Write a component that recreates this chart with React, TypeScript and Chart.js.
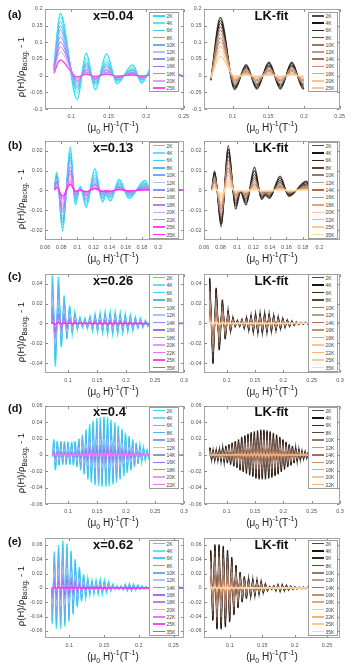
import React, { useEffect, useRef } from 'react';
import { Chart, registerables } from 'chart.js';

Chart.register(...registerables);

type P = [number, number];

// ---------------- temperatures (legend entries) ----------------
const tempsA = ['2K', '4K', '6K', '8K', '10K', '12K', '14K', '16K', '18K', '20K', '25K'];
const tempsB = ['2K', '4K', '6K', '8K', '10K', '12K', '14K', '16K', '18K', '20K', '22K', '25K', '35K'];
const tempsD = ['2K', '4K', '6K', '8K', '10K', '12K', '14K', '16K', '18K', '20K', '22K'];

// ---------------- tick values ----------------
const aXTicks = [0.1, 0.15, 0.2, 0.25];
const aYTicks = [-0.1, -0.05, 0, 0.05, 0.1, 0.15, 0.2];
const bXTicks = [0.06, 0.08, 0.1, 0.12, 0.14, 0.16, 0.18, 0.2];
const bYTicks = [-0.02, -0.01, 0, 0.01, 0.02];
const cXTicks = [0.1, 0.15, 0.2, 0.25, 0.3];
const cYTicks = [-0.04, -0.02, 0, 0.02, 0.04];
const dXTicks = [0.1, 0.15, 0.2, 0.25, 0.3];
const dYTicks = [-0.06, -0.04, -0.02, 0, 0.02, 0.04, 0.06];
const eXTicks = [0.1, 0.15, 0.2, 0.25];
const eYTicks = [-0.06, -0.04, -0.02, 0, 0.02, 0.04, 0.06];

// ---------------- (a) x=0.04 ----------------
const aMeasBase: P[] = [[0.077, 0.03], [0.0853, 0.186], [0.108, -0.071], [0.12, 0.067], [0.132, -0.042], [0.147, 0.065], [0.161, -0.024], [0.182, 0.032], [0.194, -0.022], [0.21, 0.035], [0.224, -0.012], [0.238, 0.01], [0.25, -0.004]];
const aMeasEarly = [1, 0.94, 0.87, 0.8, 0.74, 0.68, 0.62, 0.54, 0.46, 0.38, 0.25];
const aMeasLate = [1, 0.75, 0.62, 0.52, 0.44, 0.37, 0.3, 0.23, 0.16, 0.11, 0.06];
const aFitBase: P[] = [[0.0696, -0.014], [0.083, 0.174], [0.103, -0.042], [0.119, 0.033], [0.134, -0.04], [0.151, 0.04], [0.167, -0.04], [0.183, 0.04], [0.199, -0.04], [0.2, -0.038]];
const aFitEarly = [1, 0.95, 0.9, 0.84, 0.78, 0.72, 0.65, 0.58, 0.5, 0.42, 0.33];
const aFitLate = [1, 0.9, 0.8, 0.7, 0.6, 0.5, 0.4, 0.3, 0.2, 0.12, 0.06];

// ---------------- (b) x=0.13 ----------------
const bMeasBase: P[] = [[0.0717, 0.001], [0.0746, 0.0092], [0.0817, -0.0205], [0.0913, 0.022], [0.0975, -0.0073], [0.1037, 0.002], [0.111, -0.0085], [0.1217, 0.011], [0.131, -0.0058], [0.1355, -0.0025], [0.141, -0.0052], [0.1517, 0.0055], [0.164, -0.004], [0.1837, 0.005], [0.192, -0.0015], [0.2, 0.002], [0.21, -0.002], [0.22, 0.001], [0.232, 0]];
const bMeasEarly = [1, 0.92, 0.85, 0.78, 0.7, 0.62, 0.54, 0.46, 0.38, 0.31, 0.25, 0.2, 0.14];
const bMeasLate = [1, 0.85, 0.72, 0.6, 0.5, 0.42, 0.35, 0.28, 0.22, 0.17, 0.13, 0.1, 0.07];
const bFitBase: P[] = [[0.0694, 0], [0.0728, 0.0098], [0.0809, -0.0183], [0.0894, 0.0225], [0.0983, -0.0094], [0.1043, -0.0008], [0.111, -0.0073], [0.1213, 0.0117], [0.1298, -0.0045], [0.1345, -0.0025], [0.1395, -0.004], [0.1523, 0.0071], [0.163, -0.003], [0.184, 0.0046], [0.193, -0.001], [0.2, 0.0005]];
const bFitEarly = [1, 0.93, 0.85, 0.77, 0.68, 0.6, 0.51, 0.43, 0.35, 0.27, 0.2, 0.14, 0.09];
const bFitLate = [1, 0.85, 0.7, 0.57, 0.46, 0.37, 0.29, 0.22, 0.16, 0.12, 0.08, 0.05, 0.03];

// ---------------- (c) x=0.26 ----------------
const cMeasEnds: P[] = [[0.072, 0], [0.3, 0]];
const cMeasPeaks: P[] = [[0.0728, 0.05], [0.0833, 0.047], [0.0931, 0.028], [0.1025, 0.018], [0.1115, 0.011], [0.1203, 0.006], [0.129, 0.005], [0.1377, 0.007], [0.1464, 0.009], [0.1551, 0.01], [0.1638, 0.011], [0.1725, 0.011], [0.1812, 0.011], [0.1899, 0.01], [0.1986, 0.009], [0.2073, 0.008], [0.216, 0.006], [0.2247, 0.005], [0.2334, 0.003], [0.2421, 0.002], [0.2508, 0.002], [0.2595, 0.001], [0.2682, 0.001]];
const cMeasTroughs: P[] = [[0.078, -0.0435], [0.0882, -0.024], [0.0978, -0.016], [0.107, -0.01], [0.1159, -0.006], [0.1246, -0.004], [0.1333, -0.005], [0.142, -0.007], [0.1507, -0.008], [0.1594, -0.009], [0.1681, -0.01], [0.1768, -0.01], [0.1855, -0.01], [0.1942, -0.009], [0.2029, -0.008], [0.2116, -0.007], [0.2203, -0.005], [0.229, -0.004], [0.2377, -0.003], [0.2464, -0.002], [0.2551, -0.0015], [0.2638, -0.001], [0.2725, -0.001]];
const cMeasAmp = [1, 0.97, 0.93, 0.85, 0.68, 0.5, 0.33, 0.2, 0.12, 0.07, 0.045, 0.03, 0.015];
const cFitEnds: P[] = [[0.0695, 0], [0.3, 0]];
const cFitPeaks: P[] = [[0.07, 0.046], [0.0815, 0.036], [0.0925, 0.024], [0.1025, 0.013], [0.111, 0.006], [0.119, 0.003], [0.127, 0.004], [0.135, 0.006], [0.143, 0.008], [0.151, 0.0095], [0.159, 0.01], [0.167, 0.01], [0.175, 0.0095], [0.183, 0.008], [0.191, 0.0065], [0.199, 0.005], [0.207, 0.0035], [0.215, 0.0025], [0.223, 0.0015], [0.231, 0.001], [0.239, 0.001], [0.247, 0.0005]];
const cFitTroughs: P[] = [[0.0758, -0.041], [0.087, -0.027], [0.0975, -0.016], [0.1068, -0.008], [0.115, -0.003], [0.123, -0.003], [0.131, -0.005], [0.139, -0.007], [0.147, -0.0085], [0.155, -0.0095], [0.163, -0.0095], [0.171, -0.009], [0.179, -0.008], [0.187, -0.007], [0.195, -0.0055], [0.203, -0.004], [0.211, -0.003], [0.219, -0.002], [0.227, -0.0012], [0.235, -0.0008], [0.243, -0.0005]];
const cFitAmp = [1, 0.97, 0.92, 0.85, 0.7, 0.5, 0.3, 0.18, 0.1, 0.06, 0.04, 0.025, 0.01];

// ---------------- (d) x=0.4 ----------------
const dMeasEnds: P[] = [[0.0735, -0.002], [0.252, 0], [0.3, 0]];
const dMeasPeaks: P[] = [[0.075, 0.019], [0.0812, 0.017], [0.0874, 0.017], [0.0936, 0.017], [0.0998, 0.016], [0.106, 0.016], [0.1122, 0.017], [0.1184, 0.02], [0.1246, 0.025], [0.1308, 0.031], [0.137, 0.038], [0.1432, 0.042], [0.1494, 0.045], [0.1556, 0.046], [0.1618, 0.047], [0.168, 0.046], [0.1742, 0.043], [0.1804, 0.04], [0.1866, 0.036], [0.1928, 0.032], [0.199, 0.027], [0.2052, 0.023], [0.2114, 0.019], [0.2176, 0.015], [0.2238, 0.012], [0.23, 0.009], [0.2362, 0.006], [0.2424, 0.004], [0.2486, 0.002]];
const dMeasTroughs: P[] = [[0.0781, -0.019], [0.0843, -0.013], [0.0905, -0.012], [0.0967, -0.012], [0.1029, -0.012], [0.1091, -0.013], [0.1153, -0.015], [0.1215, -0.019], [0.1277, -0.024], [0.1339, -0.03], [0.1401, -0.034], [0.1463, -0.037], [0.1525, -0.038], [0.1587, -0.039], [0.1649, -0.039], [0.1711, -0.038], [0.1773, -0.036], [0.1835, -0.034], [0.1897, -0.03], [0.1959, -0.026], [0.2021, -0.022], [0.2083, -0.019], [0.2145, -0.015], [0.2207, -0.011], [0.2269, -0.008], [0.2331, -0.006], [0.2393, -0.004], [0.2455, -0.002]];
const dMeasAmp = [1, 0.97, 0.92, 0.82, 0.62, 0.42, 0.26, 0.15, 0.08, 0.04, 0.02];
const dFitEnds: P[] = [[0.0695, 0], [0.25, 0]];
const dFitPeaks: P[] = [[0.0705, 0.009], [0.0761, 0.006], [0.0817, 0.006], [0.0873, 0.007], [0.0929, 0.009], [0.0985, 0.011], [0.1041, 0.013], [0.1097, 0.015], [0.1153, 0.017], [0.1209, 0.019], [0.1265, 0.022], [0.1321, 0.024], [0.1377, 0.026], [0.1433, 0.028], [0.1489, 0.029], [0.1545, 0.03], [0.1601, 0.031], [0.1657, 0.031], [0.1713, 0.03], [0.1769, 0.029], [0.1825, 0.027], [0.1881, 0.025], [0.1937, 0.022], [0.1993, 0.019], [0.2049, 0.016], [0.2105, 0.013], [0.2161, 0.011], [0.2217, 0.009], [0.2273, 0.007], [0.2329, 0.005], [0.2385, 0.004], [0.2441, 0.003]];
const dFitTroughs: P[] = [[0.0733, -0.006], [0.0789, -0.007], [0.0845, -0.007], [0.0901, -0.008], [0.0957, -0.009], [0.1013, -0.01], [0.1069, -0.012], [0.1125, -0.014], [0.1181, -0.016], [0.1237, -0.019], [0.1293, -0.021], [0.1349, -0.023], [0.1405, -0.025], [0.1461, -0.027], [0.1517, -0.029], [0.1573, -0.03], [0.1629, -0.03], [0.1685, -0.03], [0.1741, -0.029], [0.1797, -0.028], [0.1853, -0.026], [0.1909, -0.024], [0.1965, -0.021], [0.2021, -0.018], [0.2077, -0.015], [0.2133, -0.013], [0.2189, -0.01], [0.2245, -0.008], [0.2301, -0.006], [0.2357, -0.005], [0.2413, -0.004], [0.2469, -0.003]];
const dFitAmp = [1, 0.95, 0.88, 0.78, 0.6, 0.4, 0.25, 0.14, 0.08, 0.04, 0.02];

// ---------------- (e) x=0.62 ----------------
const eMeasEnds: P[] = [[0.075, 0], [0.265, 0]];
const eMeasPeaks: P[] = [[0.0785, 0.051], [0.0845, 0.06], [0.0905, 0.066], [0.0965, 0.062], [0.1025, 0.052], [0.1085, 0.04], [0.1145, 0.029], [0.1205, 0.019], [0.1265, 0.013], [0.1325, 0.01], [0.1385, 0.01], [0.1445, 0.011], [0.1505, 0.01], [0.1565, 0.008], [0.1625, 0.005], [0.1685, 0.003], [0.1745, 0.003], [0.1805, 0.005], [0.1865, 0.0055], [0.1925, 0.005], [0.1985, 0.004], [0.2045, 0.003], [0.2105, 0.002], [0.2165, 0.0015], [0.2225, 0.0015], [0.2285, 0.001], [0.2345, 0.001], [0.2405, 0.001], [0.2465, 0.001], [0.2525, 0.001], [0.2585, 0.001]];
const eMeasTroughs: P[] = [[0.0755, -0.05], [0.0815, -0.057], [0.0875, -0.057], [0.0935, -0.054], [0.0995, -0.047], [0.1055, -0.037], [0.1115, -0.027], [0.1175, -0.019], [0.1235, -0.013], [0.1295, -0.009], [0.1355, -0.008], [0.1415, -0.008], [0.1475, -0.008], [0.1535, -0.006], [0.1595, -0.004], [0.1655, -0.002], [0.1715, -0.002], [0.1775, -0.003], [0.1835, -0.004], [0.1895, -0.004], [0.1955, -0.003], [0.2015, -0.002], [0.2075, -0.0015], [0.2135, -0.001], [0.2195, -0.001], [0.2255, -0.001], [0.2315, -0.001], [0.2375, -0.001], [0.2435, -0.001], [0.2495, -0.001], [0.2555, -0.001]];
const eMeasAmp = [1, 0.97, 0.93, 0.85, 0.65, 0.45, 0.28, 0.17, 0.1, 0.06, 0.04, 0.025, 0.012];
const eFitEnds: P[] = [[0.0695, 0], [0.235, 0], [0.27, 0]];
const eFitPeaks: P[] = [[0.0703, 0.053], [0.0768, 0.061], [0.0833, 0.061], [0.0898, 0.059], [0.0963, 0.053], [0.1028, 0.043], [0.1093, 0.032], [0.1158, 0.022], [0.1223, 0.016], [0.1288, 0.013], [0.1353, 0.012], [0.1418, 0.011], [0.1483, 0.009], [0.1548, 0.0055], [0.1613, 0.002], [0.1678, 0.003], [0.1743, 0.0045], [0.1808, 0.0045], [0.1873, 0.0035], [0.1938, 0.0025], [0.2003, 0.0015], [0.2068, 0.001], [0.2133, 0.001], [0.2198, 0.0008], [0.2263, 0.0005]];
const eFitTroughs: P[] = [[0.07355, -0.046], [0.08005, -0.058], [0.08655, -0.058], [0.09305, -0.055], [0.09955, -0.048], [0.10605, -0.038], [0.11255, -0.028], [0.11905, -0.02], [0.12555, -0.015], [0.13205, -0.012], [0.13855, -0.011], [0.14505, -0.009], [0.15155, -0.007], [0.15805, -0.004], [0.16455, -0.002], [0.17105, -0.004], [0.17755, -0.005], [0.18405, -0.004], [0.19055, -0.003], [0.19705, -0.002], [0.20355, -0.0015], [0.21005, -0.001], [0.21655, -0.001], [0.22305, -0.0008], [0.22955, -0.0005]];
const eFitAmp = [1, 0.97, 0.92, 0.85, 0.7, 0.5, 0.3, 0.18, 0.1, 0.06, 0.04, 0.025, 0.01];

// ---------------- styles ----------------
const measPalette: Record<string, string> = {
  '2K': '#22e4f0', '4K': '#66dff3', '6K': '#3fcdf0', '8K': '#55b5f0', '10K': '#74a9f2', '12K': '#a9c2f7',
  '14K': '#8e8ff2', '16K': '#9c72f2', '18K': '#b57ff2', '20K': '#d7a2f4', '22K': '#e678f2', '25K': '#f04cf0', '35K': '#ff2cff',
};
const fitPalette: Record<string, string> = {
  '2K': '#4a4a4a', '4K': '#1e120c', '6K': '#3a2216', '8K': '#5e4234', '10K': '#96786a', '12K': '#b99c8c',
  '14K': '#a86e4c', '16K': '#c98d68', '18K': '#e4a57e', '20K': '#f6c49e', '22K': '#f8b274', '25K': '#fbc98e', '35K': '#fddcaa',
};
const FONT = "'Liberation Sans', Arial, Helvetica, sans-serif";

const merge = (...parts: P[][]): P[] => parts.flat().sort((p, q) => p[0] - q[0]);

interface PanelDef {
  key: string;
  xr: [number, number];
  yr: [number, number];
  xMin: number; xMax: number; xTicks: number[];
  yMin: number; yMax: number; yTicks: number[];
  temps: string[];
  palette: Record<string, string>;
  base: P[];
  early: number[];
  late: number[];
  split: number;
  smooth: boolean;
}

const LX: [number, number] = [45, 183.5];
const RX: [number, number] = [204, 340];
const rowsY: Record<string, [number, number]> = { a: [7, 109], b: [139, 240], c: [272, 373], d: [404, 504], e: [536, 638] };

const panels: PanelDef[] = [
  { key: 'aL', xr: LX, yr: rowsY.a, xMin: 0.065, xMax: 0.25, xTicks: aXTicks, yMin: -0.1, yMax: 0.2, yTicks: aYTicks, temps: tempsA, palette: measPalette, base: aMeasBase, early: aMeasEarly, late: aMeasLate, split: 0.1, smooth: true },
  { key: 'aR', xr: RX, yr: rowsY.a, xMin: 0.06, xMax: 0.25, xTicks: aXTicks, yMin: -0.1, yMax: 0.2, yTicks: aYTicks, temps: tempsA, palette: fitPalette, base: aFitBase, early: aFitEarly, late: aFitLate, split: 0.1, smooth: true },
  { key: 'bL', xr: LX, yr: rowsY.b, xMin: 0.06, xMax: 0.232, xTicks: bXTicks, yMin: -0.025, yMax: 0.025, yTicks: bYTicks, temps: tempsB, palette: measPalette, base: bMeasBase, early: bMeasEarly, late: bMeasLate, split: 0.095, smooth: true },
  { key: 'bR', xr: RX, yr: rowsY.b, xMin: 0.06, xMax: 0.225, xTicks: bXTicks, yMin: -0.025, yMax: 0.025, yTicks: bYTicks, temps: tempsB, palette: fitPalette, base: bFitBase, early: bFitEarly, late: bFitLate, split: 0.095, smooth: true },
  { key: 'cL', xr: LX, yr: rowsY.c, xMin: 0.06, xMax: 0.3, xTicks: cXTicks, yMin: -0.05, yMax: 0.05, yTicks: cYTicks, temps: tempsB, palette: measPalette, base: merge(cMeasEnds, cMeasPeaks, cMeasTroughs), early: cMeasAmp, late: cMeasAmp, split: 1, smooth: false },
  { key: 'cR', xr: RX, yr: rowsY.c, xMin: 0.06, xMax: 0.3, xTicks: cXTicks, yMin: -0.05, yMax: 0.05, yTicks: cYTicks, temps: tempsB, palette: fitPalette, base: merge(cFitEnds, cFitPeaks, cFitTroughs), early: cFitAmp, late: cFitAmp, split: 1, smooth: false },
  { key: 'dL', xr: LX, yr: rowsY.d, xMin: 0.06, xMax: 0.3, xTicks: dXTicks, yMin: -0.06, yMax: 0.06, yTicks: dYTicks, temps: tempsD, palette: measPalette, base: merge(dMeasEnds, dMeasPeaks, dMeasTroughs), early: dMeasAmp, late: dMeasAmp, split: 1, smooth: false },
  { key: 'dR', xr: RX, yr: rowsY.d, xMin: 0.06, xMax: 0.3, xTicks: dXTicks, yMin: -0.06, yMax: 0.06, yTicks: dYTicks, temps: tempsD, palette: fitPalette, base: merge(dFitEnds, dFitPeaks, dFitTroughs), early: dFitAmp, late: dFitAmp, split: 1, smooth: false },
  { key: 'eL', xr: LX, yr: rowsY.e, xMin: 0.065, xMax: 0.265, xTicks: eXTicks, yMin: -0.07, yMax: 0.07, yTicks: eYTicks, temps: tempsB, palette: measPalette, base: merge(eMeasEnds, eMeasPeaks, eMeasTroughs), early: eMeasAmp, late: eMeasAmp, split: 1, smooth: false },
  { key: 'eR', xr: RX, yr: rowsY.e, xMin: 0.06, xMax: 0.27, xTicks: eXTicks, yMin: -0.07, yMax: 0.07, yTicks: eYTicks, temps: tempsB, palette: fitPalette, base: merge(eFitEnds, eFitPeaks, eFitTroughs), early: eFitAmp, late: eFitAmp, split: 1, smooth: false },
];

const fmt = (v: number) => String(Number(Number(v).toFixed(4)));

const framePlugin = {
  id: 'frame',
  afterDatasetsDraw(chart: any) {
    const { ctx, chartArea } = chart;
    const L = Math.round(chartArea.left) + 0.5;
    const T = Math.round(chartArea.top) + 0.5;
    const R = Math.round(chartArea.right) - 0.5;
    const B = Math.round(chartArea.bottom) - 0.5;
    ctx.save();
    ctx.strokeStyle = '#a4a4a4';
    ctx.lineWidth = 1;
    ctx.strokeRect(L, T, R - L, B - T);
    ctx.beginPath();
    const xs = chart.scales.x;
    const ys = chart.scales.y;
    for (const t of xs.ticks) {
      const px = Math.round(xs.getPixelForValue(t.value)) + 0.5;
      ctx.moveTo(px, B); ctx.lineTo(px, B - 2.5);
      ctx.moveTo(px, T); ctx.lineTo(px, T + 2.5);
    }
    for (const t of ys.ticks) {
      const py = Math.round(ys.getPixelForValue(t.value)) + 0.5;
      ctx.moveTo(L, py); ctx.lineTo(L + 2.5, py);
      ctx.moveTo(R, py); ctx.lineTo(R - 2.5, py);
    }
    ctx.strokeStyle = '#8a8a8a';
    ctx.stroke();
    ctx.restore();
  },
};

const YW = 24, PT = 4, PR = 9, XH = 14;

function PanelChart({ def }: { def: PanelDef }) {
  const ref = useRef<HTMLCanvasElement>(null);
  const [l, r] = def.xr;
  const [t, b] = def.yr;
  const cw = Math.round(r - l + YW + PR);
  const ch = Math.round(b - t + PT + XH);
  useEffect(() => {
    const n = def.temps.length;
    const datasets = def.temps.map((T, i) => ({
      label: T,
      data: def.base.map(([x, y]) => ({ x, y: y * (x <= def.split ? def.early[i] : def.late[i]) })),
      borderColor: def.palette[T],
      borderWidth: i === 0 || i === n - 1 ? 1.4 : 1,
      pointRadius: 0,
      fill: false,
      tension: 0,
      cubicInterpolationMode: def.smooth ? 'monotone' : 'default',
      order: -i,
    }));
    const tickFont = { size: 5.5, family: FONT };
    const chart = new Chart(ref.current as HTMLCanvasElement, {
      type: 'line',
      data: { datasets } as any,
      options: {
        animation: false,
        responsive: false,
        maintainAspectRatio: false,
        events: [],
        layout: { padding: { top: PT, right: PR, left: 0, bottom: 0 } },
        plugins: { legend: { display: false }, tooltip: { enabled: false }, title: { display: false } },
        scales: {
          x: {
            type: 'linear', min: def.xMin, max: def.xMax,
            afterBuildTicks: (s: any) => { s.ticks = def.xTicks.map((v) => ({ value: v })); },
            afterFit: (s: any) => { s.height = XH; },
            grid: { display: false, drawTicks: false },
            border: { display: false },
            ticks: { padding: 4, font: tickFont, color: '#555', autoSkip: false, maxRotation: 0, callback: (v: any) => fmt(v) },
          },
          y: {
            type: 'linear', min: def.yMin, max: def.yMax,
            afterBuildTicks: (s: any) => { s.ticks = def.yTicks.map((v) => ({ value: v })); },
            afterFit: (s: any) => { s.width = YW; },
            grid: { display: false, drawTicks: false },
            border: { display: false },
            ticks: { padding: 2.5, font: tickFont, color: '#555', autoSkip: false, callback: (v: any) => fmt(v) },
          },
        },
      } as any,
      plugins: [framePlugin],
    });
    return () => chart.destroy();
  }, []);
  return (
    <canvas
      ref={ref}
      width={cw}
      height={ch}
      style={{ position: 'absolute', left: Math.round(l - YW), top: Math.round(t - PT), width: cw, height: ch }}
    />
  );
}

function Legend({ box, temps, palette }: { box: [number, number, number, number]; temps: string[]; palette: Record<string, string> }) {
  const [l, t, r, b] = box;
  const n = temps.length;
  const step = (b - t - 8) / (n - 1);
  return (
    <div style={{ position: 'absolute', left: l, top: t, width: r - l, height: b - t, border: '1px solid #9c9c9c', background: '#fff', boxSizing: 'border-box' }}>
      {temps.map((T, i) => {
        const cy = 3 + step * i;
        return (
          <React.Fragment key={T}>
            <div style={{ position: 'absolute', left: 3, top: cy - 0.75, width: 12, height: 1.5, background: palette[T] }} />
            <div style={{ position: 'absolute', left: 16.5, top: cy - 3, fontSize: 5, lineHeight: '6px', color: '#444', fontFamily: FONT, whiteSpace: 'nowrap' }}>{T}</div>
          </React.Fragment>
        );
      })}
    </div>
  );
}

const rows = [
  { k: 'a', letter: '(a)', title: 'x=0.04', letterY: 14.3, titleY: 15.7, leg: [12, 92], temps: tempsA },
  { k: 'b', letter: '(b)', title: 'x=0.13', letterY: 145, titleY: 148.3, leg: [141.5, 238.5], temps: tempsB },
  { k: 'c', letter: '(c)', title: 'x=0.26', letterY: 275.5, titleY: 280.7, leg: [273.5, 371.5], temps: tempsB },
  { k: 'd', letter: '(d)', title: 'x=0.4', letterY: 408.3, titleY: 411.7, leg: [406.5, 488.5], temps: tempsD },
  { k: 'e', letter: '(e)', title: 'x=0.62', letterY: 541.3, titleY: 544.7, leg: [539.5, 635.5], temps: tempsB },
];

function XTitle({ cx, cy }: { cx: number; cy: number }) {
  return (
    <div style={{ position: 'absolute', left: cx, top: cy, transform: 'translate(-50%, -50%)', fontFamily: FONT, fontSize: 10, color: '#222', whiteSpace: 'nowrap', lineHeight: '12px' }}>
      (μ<sub style={{ fontSize: 7 }}>0</sub> H)<sup style={{ fontSize: 7 }}>-1</sup>(T<sup style={{ fontSize: 7 }}>-1</sup>)
    </div>
  );
}

export default function App() {
  return (
    <div style={{ position: 'fixed', left: 0, top: 0, width: 357, height: 667, background: '#fff', overflow: 'hidden' }}>
      {panels.map((p) => (
        <PanelChart key={p.key} def={p} />
      ))}
      {rows.map((row) => {
        const [yt, yb] = rowsY[row.k];
        return (
          <React.Fragment key={row.k}>
            <Legend box={[149, row.leg[0], 179, row.leg[1]]} temps={row.temps} palette={measPalette} />
            <Legend box={[308, row.leg[0], 338, row.leg[1]]} temps={row.temps} palette={fitPalette} />
            <div style={{ position: 'absolute', left: 8, top: row.letterY - 7, fontFamily: FONT, fontWeight: 'bold', fontSize: 11, lineHeight: '14px', color: '#111' }}>{row.letter}</div>
            <div style={{ position: 'absolute', left: 93, top: row.titleY - 8, fontFamily: FONT, fontWeight: 'bold', fontSize: 13, lineHeight: '16px', color: '#111', whiteSpace: 'nowrap' }}>{row.title}</div>
            <div style={{ position: 'absolute', left: 254.5, top: row.titleY - 8, fontFamily: FONT, fontWeight: 'bold', fontSize: 13, lineHeight: '16px', color: '#111', whiteSpace: 'nowrap' }}>LK-fit</div>
            <XTitle cx={113} cy={yb + 18.5} />
            <XTitle cx={272} cy={yb + 18.5} />
            <div style={{ position: 'absolute', left: 22.5, top: (yt + yb) / 2 + 9, transform: 'translate(-50%, -50%) rotate(-90deg)', fontFamily: FONT, fontSize: 9.5, color: '#222', whiteSpace: 'nowrap', lineHeight: '12px' }}>
              ρ(H)/ρ<sub style={{ fontSize: 6.5 }}>Backg.</sub> - 1
            </div>
          </React.Fragment>
        );
      })}
    </div>
  );
}
